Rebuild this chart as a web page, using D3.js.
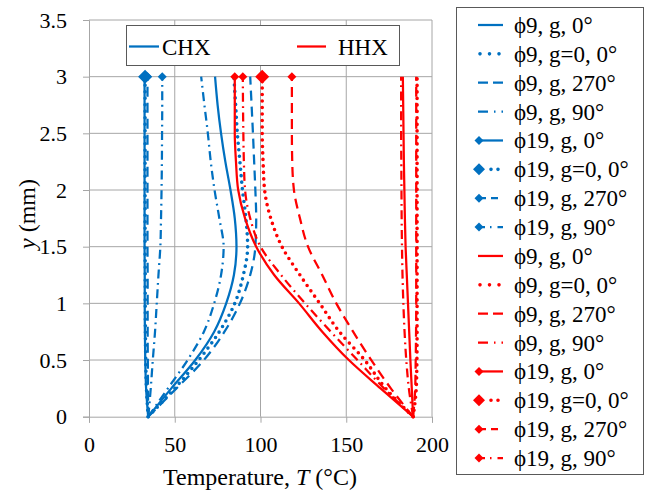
<!DOCTYPE html>
<html>
<head>
<meta charset="utf-8">
<script src="https://cdn.jsdelivr.net/npm/d3@7"></script>
<style>
  body { margin: 0; background: #fff; }
</style>
</head>
<body>
<div id="chart"></div>
<script>
// y positions (mm) where the temperature was read
var yLevels = [0, 0.25, 0.5, 0.75, 1, 1.25, 1.5, 1.75, 2, 2.25, 2.5, 2.75, 3];

// CHX (blue) temperatures, degC
var chx_p9_g0     = [34.5, 48, 62, 73, 80, 84.5, 86, 85, 82.5, 79.5, 77, 75, 73.5];
var chx_p9_g0off  = [34.5, 50, 64, 76, 85, 90, 92.5, 91.5, 89.5, 88, 86.5, 85.5, 84.5];
var chx_p9_270    = [34.5, 51, 67, 79, 88, 94, 97, 97.5, 97, 96.3, 95.6, 94.8, 94];
var chx_p9_90     = [34.5, 46, 57.5, 67, 73, 77, 78.5, 76, 73.2, 71, 69.3, 67.3, 65.4];
var chx_p19_g0    = [34.5, 33.3, 32.8, 32.6, 32.5, 32.5, 32.4, 32.4, 32.4, 32.4, 32.4, 32.4, 32.4];
var chx_p19_g0off = [34.5, 33.5, 33.1, 32.9, 32.8, 32.8, 32.7, 32.7, 32.7, 32.7, 32.7, 32.7, 32.7];
var chx_p19_270   = [34.5, 34.4, 34.3, 34.2, 34.2, 34.2, 34.1, 34.1, 34.1, 34.1, 34.1, 34.1, 34.1];
var chx_p19_90    = [34.6, 36, 37.2, 38.5, 39.5, 40.5, 41.6, 42, 42.3, 42.5, 42.6, 42.7, 42.7];

// HHX (red) temperatures, degC
var hhx_p9_g0     = [189, 188.2, 187.4, 186.7, 186, 185.3, 184.6, 184.2, 183.9, 183.6, 183.4, 183.2, 183];
var hhx_p9_g0off  = [189, 190.8, 191.2, 191.3, 191.3, 191.3, 191.3, 191.3, 191.3, 191.3, 191.3, 191.3, 191.3];
var hhx_p9_270    = [189, 190.2, 190.5, 190.7, 190.8, 190.8, 190.8, 190.8, 190.8, 190.8, 190.8, 190.8, 190.8];
var hhx_p9_90     = [189, 186.5, 185, 184, 183.3, 182.8, 182.5, 182.3, 182.2, 182.1, 182, 182, 182];
var hhx_p19_g0    = [189, 170, 151.5, 136, 122.5, 108, 97.5, 91, 87, 85.7, 85, 85, 85];
var hhx_p19_g0off = [189, 173, 160.7, 146, 134.5, 123, 112.5, 106, 102.4, 101.5, 101, 101, 101];
var hhx_p19_270   = [189, 176, 164.6, 154, 144.2, 136, 127.7, 123, 119.5, 118.5, 118.3, 118.3, 118.3];
var hhx_p19_90    = [189, 172, 156.5, 141, 126, 112, 100, 94, 91, 90.3, 90, 89.8, 89.7];

var seriesLabels = ["\u03d59, g, 0\u00b0", "\u03d59, g=0, 0\u00b0", "\u03d59, g, 270\u00b0", "\u03d59, g, 90\u00b0",
                    "\u03d519, g, 0\u00b0", "\u03d519, g=0, 0\u00b0", "\u03d519, g, 270\u00b0", "\u03d519, g, 90\u00b0"];
var xTicks = [0, 50, 100, 150, 200];
var yTicks = [0, 0.5, 1, 1.5, 2, 2.5, 3, 3.5];

// colours and line styles
var blue = "#0070C0", red = "#FF0000";
var fontFam = "'Liberation Serif', 'Times New Roman', serif";
var styles = [
    { dash: null, legDash: null, w: 2.25, cap: "butt", marker: 0 },
    { dash: "0,6.5", legDash: "0,9.5", w: 3.6, cap: "round", marker: 0 },
    { dash: "10,6", legDash: "10,5", w: 2.25, cap: "butt", marker: 0 },
    { dash: "9,4.5,1.8,4.5", legDash: "10,6,1.5,6", w: 2.25, cap: "butt", marker: 0 },
    { dash: null, legDash: null, w: 2.25, cap: "butt", marker: 4.5 },
    { dash: "0,6.5", legDash: "0,7", w: 3.6, cap: "round", marker: 7 },
    { dash: "10,6", legDash: "7,5", w: 2.25, cap: "butt", marker: 4.5 },
    { dash: "9,4.5,1.8,4.5", legDash: "6,5,1.5,6", w: 2.25, cap: "butt", marker: 4.5 }
];

var chxData = [chx_p9_g0, chx_p9_g0off, chx_p9_270, chx_p9_90, chx_p19_g0, chx_p19_g0off, chx_p19_270, chx_p19_90];
var hhxData = [hhx_p9_g0, hhx_p9_g0off, hhx_p9_270, hhx_p9_90, hhx_p19_g0, hhx_p19_g0off, hhx_p19_270, hhx_p19_90];

var series = [];
chxData.forEach(function (vals, i) { series.push({ label: seriesLabels[i], color: blue, style: styles[i], vals: vals }); });
hhxData.forEach(function (vals, i) { series.push({ label: seriesLabels[i], color: red, style: styles[i], vals: vals }); });

var svg = d3.select("#chart").append("svg")
    .attr("width", 646)
    .attr("height", 490);

var xscale = d3.scaleLinear().domain([0, 200]).range([89, 432]);
var yscale = d3.scaleLinear().domain([0, 3.5]).range([416.7, 20]);

var gridColor = "#a6a6a6";

// grid lines
svg.append("g").selectAll("line")
    .data(yTicks.filter(function (d) { return d > 0; }))
    .enter().append("line")
    .attr("x1", xscale(0)).attr("x2", xscale(200))
    .attr("y1", d => yscale(d)).attr("y2", d => yscale(d))
    .attr("stroke", gridColor).attr("stroke-width", 1);
svg.append("g").selectAll("line")
    .data(xTicks.filter(function (d) { return d > 0; }))
    .enter().append("line")
    .attr("x1", d => xscale(d)).attr("x2", d => xscale(d))
    .attr("y1", yscale(0)).attr("y2", yscale(3.5))
    .attr("stroke", gridColor).attr("stroke-width", 1);

// axes
var xAxis = svg.append("g")
    .attr("transform", "translate(0," + yscale(0) + ")")
    .call(d3.axisBottom(xscale).tickValues(xTicks).tickSize(6).tickPadding(14).tickFormat(d => d));
var yAxis = svg.append("g")
    .attr("transform", "translate(" + xscale(0) + ",0)")
    .call(d3.axisLeft(yscale).tickValues(yTicks).tickSize(6).tickPadding(16).tickFormat(d => d));
[xAxis, yAxis].forEach(function (g) {
    g.attr("font-family", null).attr("font-size", null);
    g.selectAll("path, line").attr("stroke", gridColor);
    g.selectAll("text").style("font-size", "22px").attr("fill", "#000")
        .style("font-family", fontFam);
});

// axis titles
var xTitle = svg.append("text")
    .attr("x", 260).attr("y", 485)
    .style("font-family", fontFam)
    .style("text-anchor", "middle").style("font-size", "24px");
xTitle.append("tspan").text("Temperature, ");
xTitle.append("tspan").style("font-style", "italic").text("T");
xTitle.append("tspan").text(" (\u00b0C)");

var yTitle = svg.append("text")
    .attr("transform", "translate(35,214) rotate(-90)")
    .style("font-family", fontFam)
    .style("text-anchor", "middle").style("font-size", "24px");
yTitle.append("tspan").style("font-style", "italic").text("y");
yTitle.append("tspan").text(" (mm)");

// lines
var line = d3.line()
    .x(d => xscale(d[0]))
    .y(d => yscale(d[1]))
    .curve(d3.curveMonotoneY);

function diamond(r) {
    return "M0," + (-r) + "L" + r + ",0L0," + r + "L" + (-r) + ",0Z";
}

series.forEach(function (s) {
    var pts = s.vals.map(function (v, i) { return [v, yLevels[i]]; });
    svg.append("path")
        .datum(pts)
        .attr("d", line)
        .attr("fill", "none")
        .attr("stroke", s.color)
        .attr("stroke-width", s.style.w)
        .attr("stroke-linecap", s.style.cap)
        .attr("stroke-dasharray", s.style.dash);
    if (s.style.marker > 0) {
        var last = pts[pts.length - 1];
        svg.append("path")
            .attr("d", diamond(s.style.marker))
            .attr("transform", "translate(" + xscale(last[0]) + "," + yscale(last[1]) + ")")
            .attr("fill", s.color);
    }
});

// inner legend (CHX / HHX)
var inner = svg.append("g");
inner.append("rect")
    .attr("x", 126.5).attr("y", 25.5).attr("width", 273).attr("height", 40)
    .attr("fill", "#fff").attr("stroke", "#595959").attr("stroke-width", 1);
[{ name: "CHX", color: blue, x0: 129, x1: 159, tx: 162 },
 { name: "HHX", color: red, x0: 297, x1: 326, tx: 338 }].forEach(function (d) {
    inner.append("line")
        .attr("x1", d.x0).attr("x2", d.x1).attr("y1", 46.5).attr("y2", 46.5)
        .attr("stroke", d.color).attr("stroke-width", 2.25);
    inner.append("text")
        .attr("x", d.tx).attr("y", 54.5)
        .style("font-family", fontFam)
        .style("font-size", "23px").text(d.name);
});

// right legend
var legend = svg.append("g");
legend.append("rect")
    .attr("x", 456.5).attr("y", 7.5).attr("width", 187).attr("height", 467)
    .attr("fill", "#fff").attr("stroke", "#595959").attr("stroke-width", 1);
var rowH = 28.87;
series.forEach(function (s, i) {
    var cy = 25 + i * rowH;
    var lx0 = s.style.marker > 0 ? 479 : 478;
    legend.append("line")
        .attr("x1", s.style.cap === "round" ? lx0 + (s.style.marker > 0 ? 12 : 2) : lx0)
        .attr("x2", 503)
        .attr("y1", cy).attr("y2", cy)
        .attr("stroke", s.color)
        .attr("stroke-width", s.style.w)
        .attr("stroke-linecap", s.style.cap)
        .attr("stroke-dasharray", s.style.legDash);
    if (s.style.marker > 0) {
        legend.append("path")
            .attr("d", diamond(s.style.marker === 7 ? 6 : 4.5))
            .attr("transform", "translate(479," + cy + ")")
            .attr("fill", s.color);
    }
    legend.append("text")
        .attr("x", 514).attr("y", cy + 8)
        .style("font-family", fontFam)
        .style("font-size", "23px")
        .text(s.label);
});
</script>
</body>
</html>
